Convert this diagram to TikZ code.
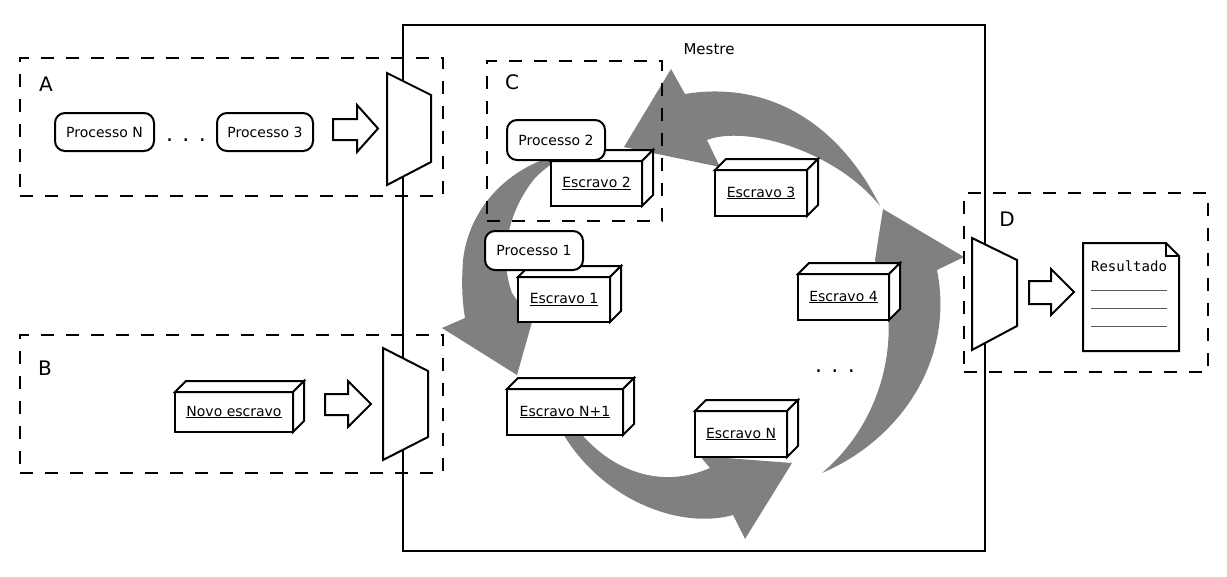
\documentclass[tikz,border=0pt]{standalone}
\usepackage{fontspec}
\setmainfont{DejaVu Sans}
\setmonofont{DejaVu Sans Mono}
\usetikzlibrary{calc}
\definecolor{arrowgray}{RGB}{128,128,128}
\definecolor{linegray}{RGB}{90,90,90}
\tikzset{
  dashbox/.style={draw, line width=2.2pt, dash pattern=on 13pt off 12pt, inner sep=0pt, outer sep=0pt},
  procbox/.style={draw, line width=2pt, rounded corners=10pt, fill=white, inner sep=0pt, outer sep=0pt, font=\fontsize{14}{16}\selectfont},
  slavefront/.style={draw, line width=2pt, fill=white, inner sep=0pt, outer sep=0pt, font=\fontsize{14}{16}\selectfont},
  slaveface/.style={draw, line width=2pt, fill=white},
  bigletter/.style={inner sep=0pt, font=\fontsize{20}{22}\selectfont},
  dotsstyle/.style={inner sep=0pt, anchor=base, font=\fontsize{22}{24}\selectfont},
  muxstyle/.style={draw, line width=2pt, fill=white},
  blockarrow/.style={draw, line width=2pt, fill=white},
  cyclearrow/.style={fill=arrowgray},
}
\newcommand\slavebox[6]{%
  \node[slavefront, minimum width=#4pt, minimum height=#5pt] (#1) at (#2,#3) {\underline{#6}};
  \draw[slaveface] (#1.north west) -- ++(11,-11) -- ++(#4,0) -- (#1.north east) -- cycle;
  \draw[slaveface] (#1.north east) -- ++(11,-11) -- ++(0,#5) -- (#1.south east) -- cycle;
}
\begin{document}
\begin{tikzpicture}[x=1pt,y=-1pt]
\useasboundingbox (0,0) rectangle (1227,576);

% master box
\node[draw, line width=2pt, minimum width=582pt, minimum height=526pt, inner sep=0pt, outer sep=0pt] (mestre) at (694,288) {};
\node[inner sep=0pt, font=\fontsize{15}{17}\selectfont] (mestrelbl) at (709,49) {Mestre};

% gray cycle arrows
\fill[cyclearrow] (575,152) .. controls (520,158) and (470,200) .. (463,260)
  .. controls (461,290) and (463,305) .. (465,318) -- (442,328) -- (517,375) -- (532,322) -- (512,293)
  .. controls (500,260) and (505,215) .. (535,178) .. controls (548,165) and (560,158) .. (575,152) -- cycle;
\fill[cyclearrow] (880,206) .. controls (840,125) and (770,80) .. (685,94) -- (671,69) -- (624,147)
  -- (720,167) -- (707,140) .. controls (745,125) and (835,150) .. (880,206) -- cycle;
\fill[cyclearrow] (822,473) .. controls (900,440) and (955,360) .. (937,270) -- (964,257) -- (883,209)
  -- (875,260) .. controls (905,330) and (885,420) .. (822,473) -- cycle;
\fill[cyclearrow] (558,425) .. controls (598,500) and (680,530) .. (733,515) -- (745,539) -- (792,463)
  -- (700,456) -- (710,468) .. controls (660,490) and (610,470) .. (578,430) -- cycle;

% slaves and processes
\slavebox{esc2}{596.5}{183.5}{91}{45}{Escravo 2}
\node[procbox, minimum width=98pt, minimum height=40pt] (proc2) at (556,140) {Processo 2};
\slavebox{esc1}{564}{299.5}{92}{45}{Escravo 1}
\node[procbox, minimum width=98pt, minimum height=39pt] (proc1) at (534,250.5) {Processo 1};
\slavebox{esc3}{761}{193}{92}{46}{Escravo 3}
\slavebox{esc4}{843.5}{297}{91}{46}{Escravo 4}
\slavebox{escn1}{565}{412}{116}{46}{Escravo N+1}
\slavebox{escn}{741}{434}{92}{46}{Escravo N}
\node[dotsstyle] (dotsr) at (835,372) {. . .};

% region A
\node[dashbox, minimum width=423pt, minimum height=138pt] (boxA) at (231.5,127) {};
\node[bigletter] (lblA) at (46,84) {A};
\node[procbox, minimum width=99pt, minimum height=38pt] (procN) at (104.5,132) {Processo N};
\node[dotsstyle] (dotsA) at (186,141) {. . .};
\node[procbox, minimum width=96pt, minimum height=38pt] (proc3) at (265,132) {Processo 3};
\draw[blockarrow] (333,119) -- (357,119) -- (357,105) -- (378,128.5) -- (357,152) -- (357,140) -- (333,140) -- cycle;
\draw[muxstyle] (387,73) -- (431,95) -- (431,162) -- (387,185) -- cycle;

% region B
\node[dashbox, minimum width=423pt, minimum height=138pt] (boxB) at (231.5,404) {};
\node[bigletter] (lblB) at (45,368) {B};
\node[slavefront, minimum width=118pt, minimum height=40pt] (novo) at (234,412) {\underline{Novo escravo}};
\draw[slaveface] (novo.north west) -- ++(11,-11) -- ++(118,0) -- (novo.north east) -- cycle;
\draw[slaveface] (novo.north east) -- ++(11,-11) -- ++(0,40) -- (novo.south east) -- cycle;
\draw[blockarrow] (325,394) -- (348,394) -- (348,381) -- (371,404) -- (348,427) -- (348,415) -- (325,415) -- cycle;
\draw[muxstyle] (383,348) -- (428,371) -- (428,437) -- (383,460) -- cycle;

% region C
\node[dashbox, minimum width=175pt, minimum height=160pt] (boxC) at (574.5,141) {};
\node[bigletter] (lblC) at (512,82) {C};

% region D
\node[dashbox, minimum width=244pt, minimum height=179pt] (boxD) at (1086,282.5) {};
\node[bigletter] (lblD) at (1007,219) {D};
\draw[muxstyle] (972,238) -- (1017,260) -- (1017,326) -- (972,350) -- cycle;
\draw[blockarrow] (1029,281) -- (1051,281) -- (1051,269) -- (1074,292) -- (1051,315) -- (1051,304) -- (1029,304) -- cycle;
\draw[line width=2pt, fill=white] (1083,243) -- (1166,243) -- (1179,256) -- (1179,351) -- (1083,351) -- cycle;
\draw[line width=1.2pt] (1166,243) -- (1166,256) -- (1179,256);
\node[inner sep=0pt, font=\ttfamily\fontsize{14}{16}\selectfont] (res) at (1129,266) {Resultado};
\draw[linegray, line width=1pt] (1091,290) -- (1167,290);
\draw[linegray, line width=1pt] (1091,308) -- (1167,308);
\draw[linegray, line width=1pt] (1091,326) -- (1167,326);
\end{tikzpicture}
\end{document}
